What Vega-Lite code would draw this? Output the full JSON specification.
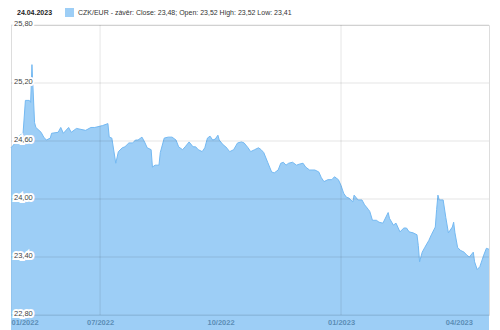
{
  "$schema": "https://vega.github.io/schema/vega-lite/v6.json",
  "width": 478,
  "height": 290,
  "autosize": "none",
  "padding": {"left": 11, "top": 25, "right": 11, "bottom": 15},
  "background": "white",
  "config": {
    "view": {"stroke": "#dddddd", "strokeWidth": 1},
    "font": "Liberation Sans"
  },
  "datasets": {
    "fx": [
      {"d": "2022-04-24", "v": 24.53}, {"d": "2022-04-26", "v": 24.56}, {"d": "2022-04-29", "v": 24.64},
      {"d": "2022-05-02", "v": 24.67}, {"d": "2022-05-03", "v": 24.64}, {"d": "2022-05-05", "v": 25.02},
      {"d": "2022-05-08", "v": 25.02}, {"d": "2022-05-09", "v": 25.00}, {"d": "2022-05-10", "v": 25.39},
      {"d": "2022-05-12", "v": 24.79}, {"d": "2022-05-13", "v": 24.74}, {"d": "2022-05-17", "v": 24.69},
      {"d": "2022-05-19", "v": 24.64}, {"d": "2022-05-21", "v": 24.61}, {"d": "2022-05-24", "v": 24.63},
      {"d": "2022-05-25", "v": 24.68}, {"d": "2022-05-30", "v": 24.69}, {"d": "2022-06-01", "v": 24.74},
      {"d": "2022-06-03", "v": 24.68}, {"d": "2022-06-07", "v": 24.74}, {"d": "2022-06-09", "v": 24.69},
      {"d": "2022-06-13", "v": 24.73}, {"d": "2022-06-20", "v": 24.71}, {"d": "2022-06-24", "v": 24.74},
      {"d": "2022-06-27", "v": 24.74}, {"d": "2022-07-03", "v": 24.76}, {"d": "2022-07-07", "v": 24.78},
      {"d": "2022-07-08", "v": 24.64}, {"d": "2022-07-10", "v": 24.63}, {"d": "2022-07-13", "v": 24.37},
      {"d": "2022-07-15", "v": 24.49}, {"d": "2022-07-18", "v": 24.53}, {"d": "2022-07-20", "v": 24.54},
      {"d": "2022-07-23", "v": 24.58}, {"d": "2022-07-26", "v": 24.58}, {"d": "2022-07-28", "v": 24.61},
      {"d": "2022-07-30", "v": 24.61}, {"d": "2022-08-02", "v": 24.64}, {"d": "2022-08-04", "v": 24.59},
      {"d": "2022-08-06", "v": 24.53}, {"d": "2022-08-09", "v": 24.51}, {"d": "2022-08-10", "v": 24.33},
      {"d": "2022-08-12", "v": 24.35}, {"d": "2022-08-15", "v": 24.35}, {"d": "2022-08-16", "v": 24.48},
      {"d": "2022-08-19", "v": 24.63}, {"d": "2022-08-22", "v": 24.64}, {"d": "2022-08-25", "v": 24.64},
      {"d": "2022-08-28", "v": 24.61}, {"d": "2022-08-30", "v": 24.54}, {"d": "2022-09-02", "v": 24.51},
      {"d": "2022-09-04", "v": 24.54}, {"d": "2022-09-07", "v": 24.59}, {"d": "2022-09-10", "v": 24.54},
      {"d": "2022-09-12", "v": 24.54}, {"d": "2022-09-14", "v": 24.51}, {"d": "2022-09-17", "v": 24.49},
      {"d": "2022-09-19", "v": 24.53}, {"d": "2022-09-21", "v": 24.63}, {"d": "2022-09-23", "v": 24.65},
      {"d": "2022-09-25", "v": 24.61}, {"d": "2022-09-27", "v": 24.62}, {"d": "2022-09-29", "v": 24.66},
      {"d": "2022-09-30", "v": 24.61}, {"d": "2022-10-03", "v": 24.56}, {"d": "2022-10-05", "v": 24.54},
      {"d": "2022-10-08", "v": 24.49}, {"d": "2022-10-11", "v": 24.51}, {"d": "2022-10-14", "v": 24.58},
      {"d": "2022-10-17", "v": 24.59}, {"d": "2022-10-19", "v": 24.58}, {"d": "2022-10-22", "v": 24.53},
      {"d": "2022-10-24", "v": 24.49}, {"d": "2022-10-27", "v": 24.51}, {"d": "2022-10-30", "v": 24.53},
      {"d": "2022-11-01", "v": 24.51}, {"d": "2022-11-03", "v": 24.48}, {"d": "2022-11-06", "v": 24.38},
      {"d": "2022-11-09", "v": 24.28}, {"d": "2022-11-11", "v": 24.27}, {"d": "2022-11-14", "v": 24.30},
      {"d": "2022-11-16", "v": 24.37}, {"d": "2022-11-18", "v": 24.38}, {"d": "2022-11-20", "v": 24.35},
      {"d": "2022-11-22", "v": 24.37}, {"d": "2022-11-25", "v": 24.38}, {"d": "2022-11-28", "v": 24.35},
      {"d": "2022-11-30", "v": 24.36}, {"d": "2022-12-03", "v": 24.37}, {"d": "2022-12-05", "v": 24.33},
      {"d": "2022-12-08", "v": 24.30}, {"d": "2022-12-12", "v": 24.30}, {"d": "2022-12-15", "v": 24.28},
      {"d": "2022-12-17", "v": 24.22}, {"d": "2022-12-19", "v": 24.18}, {"d": "2022-12-22", "v": 24.20},
      {"d": "2022-12-25", "v": 24.20}, {"d": "2022-12-27", "v": 24.23}, {"d": "2022-12-30", "v": 24.20},
      {"d": "2023-01-01", "v": 24.14}, {"d": "2023-01-03", "v": 24.06}, {"d": "2023-01-05", "v": 24.02},
      {"d": "2023-01-07", "v": 24.01}, {"d": "2023-01-10", "v": 23.97}, {"d": "2023-01-11", "v": 24.04},
      {"d": "2023-01-14", "v": 23.99}, {"d": "2023-01-17", "v": 23.99}, {"d": "2023-01-19", "v": 23.94},
      {"d": "2023-01-22", "v": 23.89}, {"d": "2023-01-23", "v": 23.87}, {"d": "2023-01-25", "v": 23.78},
      {"d": "2023-01-28", "v": 23.78}, {"d": "2023-01-30", "v": 23.76}, {"d": "2023-02-02", "v": 23.75},
      {"d": "2023-02-06", "v": 23.86}, {"d": "2023-02-07", "v": 23.80}, {"d": "2023-02-10", "v": 23.73},
      {"d": "2023-02-12", "v": 23.75}, {"d": "2023-02-15", "v": 23.66}, {"d": "2023-02-18", "v": 23.70},
      {"d": "2023-02-20", "v": 23.70}, {"d": "2023-02-22", "v": 23.66}, {"d": "2023-02-25", "v": 23.65},
      {"d": "2023-02-28", "v": 23.63}, {"d": "2023-03-01", "v": 23.52}, {"d": "2023-03-02", "v": 23.35},
      {"d": "2023-03-04", "v": 23.45}, {"d": "2023-03-06", "v": 23.50}, {"d": "2023-03-09", "v": 23.57},
      {"d": "2023-03-11", "v": 23.63}, {"d": "2023-03-14", "v": 23.71}, {"d": "2023-03-15", "v": 23.89},
      {"d": "2023-03-16", "v": 24.04}, {"d": "2023-03-17", "v": 23.99}, {"d": "2023-03-20", "v": 23.99},
      {"d": "2023-03-22", "v": 23.81}, {"d": "2023-03-24", "v": 23.65}, {"d": "2023-03-27", "v": 23.71},
      {"d": "2023-03-28", "v": 23.76}, {"d": "2023-03-29", "v": 23.65}, {"d": "2023-03-31", "v": 23.50},
      {"d": "2023-04-02", "v": 23.47}, {"d": "2023-04-05", "v": 23.45}, {"d": "2023-04-07", "v": 23.42},
      {"d": "2023-04-09", "v": 23.40}, {"d": "2023-04-12", "v": 23.45}, {"d": "2023-04-13", "v": 23.35},
      {"d": "2023-04-15", "v": 23.27}, {"d": "2023-04-17", "v": 23.30}, {"d": "2023-04-20", "v": 23.42},
      {"d": "2023-04-22", "v": 23.49}, {"d": "2023-04-24", "v": 23.48}
    ],
    "yt": [
      {"v": 22.8, "lab": "22,80", "d": "2022-04-24"},
      {"v": 23.4, "lab": "23,40", "d": "2022-04-24"},
      {"v": 24.0, "lab": "24,00", "d": "2022-04-24"},
      {"v": 24.6, "lab": "24,60", "d": "2022-04-24"},
      {"v": 25.2, "lab": "25,20", "d": "2022-04-24"},
      {"v": 25.8, "lab": "25,80", "d": "2022-04-24"}
    ],
    "xg": [
      {"d": "2022-07-01"},
      {"d": "2023-01-01"}
    ]
  },
  "layer": [
    {
      "data": {"name": "fx"},
      "mark": {"type": "area", "line": {"color": "#6fb2eb", "strokeWidth": 1}, "interpolate": "linear"},
      "encoding": {
        "x": {
          "field": "d", "type": "temporal",
          "scale": {"type": "utc", "domain": [{"year": 2022, "month": 4, "date": 24, "utc": true}, {"year": 2023, "month": 4, "date": 24, "utc": true}]},
          "axis": {
            "title": null, "grid": false, "ticks": false, "domain": false,
            "values": [
              {"year": 2022, "month": 4, "date": 24, "utc": true},
              {"year": 2022, "month": 7, "date": 1, "utc": true},
              {"year": 2022, "month": 10, "date": 1, "utc": true},
              {"year": 2023, "month": 1, "date": 1, "utc": true},
              {"year": 2023, "month": 4, "date": 1, "utc": true}
            ],
            "labelExpr": "datum.index == 0 ? '01/2022' : utcFormat(datum.value, '%m/%Y')",
            "labelFlush": true, "labelFontSize": 7.5, "labelFontWeight": "bold",
            "labelColor": "#222222", "labelPadding": 3
          }
        },
        "y": {
          "field": "v", "type": "quantitative",
          "scale": {"domain": [22.8, 25.8], "zero": false, "nice": false},
          "axis": null
        },
        "color": {
          "datum": "CZK/EUR - závěr: Close: 23,48; Open: 23,52 High: 23,52 Low: 23,41",
          "type": "nominal",
          "scale": {"range": ["#74b9f2"]},
          "legend": {
            "orient": "none", "legendX": 6, "legendY": -17,
            "direction": "horizontal", "title": "24.04.2023", "titleOrient": "left",
            "titleFontSize": 7, "titleFontWeight": "bold", "titleColor": "#222222",
            "titlePadding": 12, "titleBaseline": "middle",
            "labelFontSize": 7, "labelColor": "#333333", "labelOffset": 4, "labelLimit": 400,
            "symbolType": "square", "symbolSize": 81, "symbolStrokeWidth": 0, "symbolOpacity": 0.7
          }
        }
      }
    },
    {
      "data": {"name": "yt"},
      "mark": {"type": "rule", "color": "#000000", "opacity": 0.1, "strokeWidth": 1},
      "encoding": {"y": {"field": "v", "type": "quantitative"}}
    },
    {
      "data": {"name": "xg"},
      "mark": {"type": "rule", "color": "#000000", "opacity": 0.1, "strokeWidth": 1},
      "encoding": {"x": {"field": "d", "type": "temporal"}}
    },
    {
      "data": {"name": "yt"},
      "mark": {"type": "text", "align": "left", "baseline": "middle", "xOffset": 3, "yOffset": -1, "fontSize": 7.5, "fill": "white", "stroke": "white", "strokeWidth": 4, "strokeJoin": "miter", "clip": false},
      "encoding": {
        "x": {"field": "d", "type": "temporal"},
        "y": {"field": "v", "type": "quantitative"},
        "text": {"field": "lab"}
      }
    },
    {
      "data": {"name": "yt"},
      "mark": {"type": "text", "align": "left", "baseline": "middle", "xOffset": 3, "yOffset": -1, "fontSize": 7.5, "color": "#444444", "clip": false},
      "encoding": {
        "x": {"field": "d", "type": "temporal"},
        "y": {"field": "v", "type": "quantitative"},
        "text": {"field": "lab"}
      }
    }
  ]
}
